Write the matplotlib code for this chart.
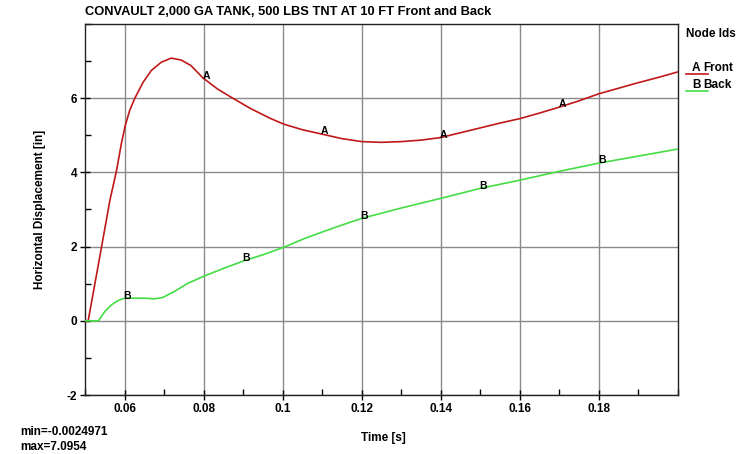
import numpy as np
import matplotlib
matplotlib.use("Agg")
import matplotlib.pyplot as plt
from matplotlib.lines import Line2D
from matplotlib.ticker import MultipleLocator

plt.rcParams["axes.unicode_minus"] = False

title = "CONVAULT 2,000 GA TANK, 500 LBS TNT AT 10 FT Front and Back"
xlabel = "Time [s]"
ylabel = "Horizontal Displacement [in]"

front_t = [0.0500, 0.0508, 0.0542, 0.0563, 0.0580, 0.0592, 0.0602, 0.0613, 0.0626,
           0.0647, 0.0668, 0.0693, 0.0718, 0.0743, 0.0768, 0.0798, 0.0835, 0.0869,
           0.0919, 0.0970, 0.1003, 0.1050, 0.1100, 0.1150, 0.1200, 0.1250, 0.1300,
           0.1350, 0.1400, 0.1450, 0.1500, 0.1550, 0.1600, 0.1650, 0.1700, 0.1750,
           0.1800, 0.1850, 0.1900, 0.1950, 0.2000]
front_y = [0.0, 0.0, 2.00, 3.25, 4.06, 4.78, 5.27, 5.67, 6.00,
           6.43, 6.75, 6.97, 7.08, 7.03, 6.88, 6.55, 6.25, 6.03,
           5.72, 5.45, 5.30, 5.15, 5.03, 4.91, 4.83, 4.81, 4.83,
           4.87, 4.94, 5.07, 5.20, 5.33, 5.45, 5.60, 5.76, 5.93,
           6.12, 6.27, 6.42, 6.56, 6.71]

back_t = [0.0500, 0.0534, 0.0550, 0.0567, 0.0584, 0.0601, 0.0651, 0.0676, 0.0697,
          0.0726, 0.0760, 0.0798, 0.0852, 0.0903, 0.0953, 0.1000, 0.1058, 0.1141,
          0.1200, 0.1300, 0.1400, 0.1500, 0.1600, 0.1700, 0.1800, 0.1900, 0.2000]
back_y = [0.0, 0.0, 0.25, 0.43, 0.55, 0.61, 0.61, 0.59, 0.63,
          0.79, 1.01, 1.19, 1.42, 1.62, 1.79, 1.97, 2.23, 2.55,
          2.76, 3.04, 3.30, 3.57, 3.79, 4.03, 4.25, 4.44, 4.63]

front_label_t = [0.08, 0.11, 0.14, 0.17]
back_label_t = [0.06, 0.09, 0.12, 0.15, 0.18]

x_ticks = [0.06, 0.08, 0.1, 0.12, 0.14, 0.16, 0.18]
x_ticklabels = ["0.06", "0.08", "0.1", "0.12", "0.14", "0.16", "0.18"]
y_ticks = [-2, 0, 2, 4, 6]

min_text = "min=-0.0024971"
max_text = "max=7.0954"

red = "#c01818"
green = "#44dd44"
bold = dict(fontweight="bold", family=["Liberation Sans", "DejaVu Sans"])

fig = plt.figure(figsize=(7.52, 4.54), dpi=100)
ax = fig.add_axes([85/752, 1-395/454, (678-85)/752, (395-24)/454])

ax.plot(front_t, front_y, color=red, lw=1.2, zorder=3, solid_joinstyle="round")
ax.plot(back_t, back_y, color=green, lw=1.2, zorder=3, solid_joinstyle="round")

for t in front_label_t:
    ax.annotate("A", (t, np.interp(t, front_t, front_y)), xytext=(2, 2),
                textcoords="offset points", ha="center", va="center",
                fontsize=7.5, zorder=4, **bold)
for t in back_label_t:
    ax.annotate("B", (t, np.interp(t, back_t, back_y)), xytext=(2, 2),
                textcoords="offset points", ha="center", va="center",
                fontsize=7.5, zorder=4, **bold)

ax.set_xlim(0.05, 0.2)
ax.set_ylim(-2, 8)
ax.set_xticks(x_ticks)
ax.set_xticklabels(x_ticklabels)
ax.set_yticks(y_ticks)
ax.xaxis.set_minor_locator(MultipleLocator(0.01))
ax.yaxis.set_minor_locator(MultipleLocator(1))
ax.grid(True, which="major", color="#8a8a8a", lw=1.0)
ax.tick_params(which="major", direction="inout", length=7, width=1, labelsize=8.5, pad=2)
ax.tick_params(which="minor", direction="in", length=4, width=1)
for lab in ax.get_xticklabels() + ax.get_yticklabels():
    lab.set_fontweight("bold")
    lab.set_family(["Liberation Sans", "DejaVu Sans"])
for s in ax.spines.values():
    s.set_linewidth(1.0)
    s.set_color("#222222")

fig.text(85/752, 1-12/454, title, ha="left", va="center", fontsize=9.3, **bold)
fig.text(383/752, 1-438/454, xlabel, ha="center", va="center", fontsize=8.5, **bold)
fig.text(40/752, 1-209/454, ylabel, ha="center", va="center", rotation=90, fontsize=8.5, **bold)
fig.text(20/752, 1-432/454, min_text, ha="left", va="center", fontsize=8.5, **bold)
fig.text(20/752, 1-447/454, max_text, ha="left", va="center", fontsize=8.5, **bold)

fig.text(686/752, 1-34/454, "Node Ids", ha="left", va="center", fontsize=8.5, **bold)
fig.text(692/752, 1-68/454, "A", ha="left", va="center", fontsize=8.5, **bold)
fig.text(703/752, 1-68/454, "Front", ha="left", va="center", fontsize=8.5, **bold)
fig.text(692/752, 1-85/454, "B", ha="left", va="center", fontsize=8.5, **bold)
fig.text(703/752, 1-85/454, "Back", ha="left", va="center", fontsize=8.5, **bold)
fig.add_artist(Line2D([686/752, 708/752], [1-74/454, 1-74/454], color=red, lw=1.2))
fig.add_artist(Line2D([686/752, 708/752], [1-91/454, 1-91/454], color=green, lw=1.2))

fig.savefig("out.png", dpi=100, facecolor="white")
